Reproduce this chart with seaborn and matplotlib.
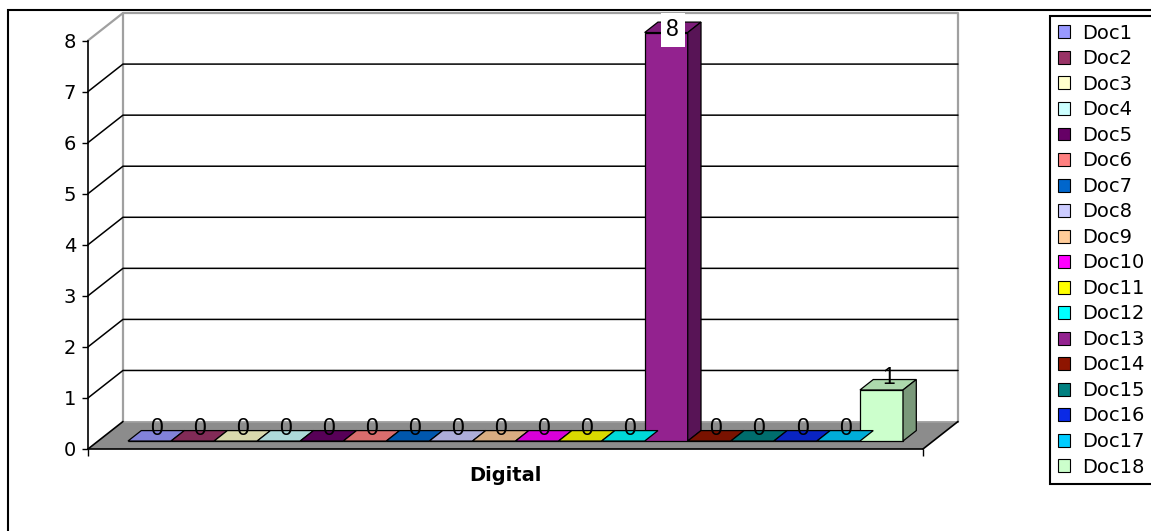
import pandas as pd
import matplotlib
matplotlib.use('Agg')
import matplotlib.pyplot as plt
import matplotlib.patches as mpatches
from matplotlib.transforms import Affine2D
import seaborn as sns

docs = ['Doc1', 'Doc2', 'Doc3', 'Doc4', 'Doc5', 'Doc6', 'Doc7', 'Doc8', 'Doc9',
        'Doc10', 'Doc11', 'Doc12', 'Doc13', 'Doc14', 'Doc15', 'Doc16', 'Doc17', 'Doc18']
values = [0, 0, 0, 0, 0, 0, 0, 0, 0, 0, 0, 0, 8, 0, 0, 0, 0, 1]
colors = ['#9999ff', '#993366', '#ffffcc', '#ccffff', '#660066', '#ff8080',
          '#0066cc', '#ccccff', '#ffcc99', '#ff00ff', '#ffff00', '#00ffff',
          '#93228f', '#8e1500', '#008080', '#0a2ae6', '#00ccff', '#ccffcc']
category = 'Digital'
y_ticks = [0, 1, 2, 3, 4, 5, 6, 7, 8]

sns.set_theme(style='white')
plt.rcParams['font.family'] = ['DejaVu Sans']
plt.rcParams.update({'text.color': 'black', 'xtick.color': 'black',
                     'ytick.color': 'black', 'axes.labelcolor': 'black'})

df = pd.DataFrame({'group': category, 'doc': docs, 'value': values})

W, H = 1151, 531
fig = plt.figure(figsize=(W / 100, H / 100), dpi=100)
ax = fig.add_axes([88 / W, (H - 449) / H, (923 - 88) / W, (449 - 40.5) / H])

sns.barplot(data=df, x='group', y='value', hue='doc', hue_order=docs,
            palette=colors, saturation=1, width=0.8, edgecolor='black',
            linewidth=0.9, legend=False, ax=ax, zorder=3)
bars = sorted(ax.patches, key=lambda p: p.get_x())

# fake 3d: depth of the floor (data units) and where the bars sit in it
XMIN, XMAX = -0.4308, 0.4311
DX, DY = 0.0361, 0.538
F0, F1 = 0.29, 0.67
ax.set_xlim(XMIN, XMAX)
ax.set_ylim(0, y_ticks[-1])
ax.patch.set_visible(False)
ax.set_xlabel('')
ax.set_ylabel('')

wall = '#a0a0a0'
top = y_ticks[-1]
ax.plot([XMIN + DX, XMIN + DX, XMAX + DX, XMAX + DX], [DY, top + DY, top + DY, DY],
        color=wall, lw=1.6, clip_on=False, zorder=0)
ax.plot([XMIN, XMIN + DX], [top, top + DY], color=wall, lw=1.6, clip_on=False, zorder=0)
for k in y_ticks[1:-1]:
    ax.plot([XMIN, XMIN + DX, XMAX + DX], [k, k + DY, k + DY], color='black',
            lw=1.1, clip_on=False, zorder=0)

floor = mpatches.Polygon([(XMIN, 0), (XMAX, 0), (XMAX + DX, DY), (XMIN + DX, DY)],
                         facecolor='#8c8c8c', edgecolor='none', clip_on=False, zorder=1)
ax.add_patch(floor)
ax.plot([XMIN + DX, XMAX + DX], [DY, DY], color=wall, lw=1.2, clip_on=False, zorder=1)
ax.plot([XMIN, XMIN + DX], [0, DY], color='black', lw=1.2, clip_on=False, zorder=1)
ax.plot([XMAX, XMAX + DX], [0, DY], color='black', lw=1.2, clip_on=False, zorder=1)


def shade(c, f):
    return (c[0] * f, c[1] * f, c[2] * f)


shift = Affine2D().translate(F0 * DX, F0 * DY) + ax.transData
d = F1 - F0
label_cap = 8.05
for p in bars:
    x0, w, h = p.get_x(), p.get_width(), p.get_height()
    c = p.get_facecolor()
    p.set_transform(shift)
    p.set_clip_on(False)
    top_face = mpatches.Polygon([(x0, h), (x0 + w, h), (x0 + w + d * DX, h + d * DY),
                                 (x0 + d * DX, h + d * DY)], facecolor=shade(c, 0.85),
                                edgecolor='black', lw=0.9, transform=shift,
                                clip_on=False, zorder=3)
    ax.add_patch(top_face)
    if h > 0:
        side = mpatches.Polygon([(x0 + w, 0), (x0 + w + d * DX, d * DY),
                                 (x0 + w + d * DX, h + d * DY), (x0 + w, h)],
                                facecolor=shade(c, 0.6), edgecolor='black', lw=0.9,
                                transform=shift, clip_on=False, zorder=3)
        ax.add_patch(side)
    ly = h + d / 2 * DY + 0.137
    boxed = ly > label_cap
    ax.text(x0 + w / 2 + d / 2 * DX, min(ly, label_cap), f'{h:g}', transform=shift,
            ha='center', va='center', fontsize=16.5, family='Liberation Sans',
            color='black', zorder=5,
            bbox=dict(boxstyle='square,pad=0.25', fc='white', ec='none') if boxed else None)

for s in ['top', 'right']:
    ax.spines[s].set_visible(False)
ax.spines['left'].set_color('black')
ax.spines['left'].set_linewidth(1.2)
ax.spines['bottom'].set_color('black')
ax.spines['bottom'].set_linewidth(1.2)
ax.spines['bottom'].set_zorder(2)

ax.set_yticks(y_ticks)
ax.set_yticklabels([str(t) for t in y_ticks], fontsize=14)
ax.tick_params(axis='y', direction='out', length=4.5, width=1, color='black',
               pad=4, left=True)
ax.set_xticks([0])
ax.set_xticklabels([category], fontsize=14, fontweight='bold')
ax.set_xticks([XMIN, XMAX], minor=True)
ax.tick_params(axis='x', which='major', length=0, pad=12)
ax.tick_params(axis='x', which='minor', direction='out', length=5, width=1,
               color='black', bottom=True)

handles = [mpatches.Patch(facecolor=p.get_facecolor(), edgecolor='black', lw=0.8, label=n)
           for p, n in zip(bars, docs)]
leg = fig.legend(handles=handles, loc='upper left',
                 bbox_to_anchor=(1050 / W, 1 - 16 / H, 130 / W, 0), mode='expand',
                 frameon=True, fancybox=False, edgecolor='black', framealpha=1,
                 fontsize=14, handlelength=0.65, handleheight=0.65, handletextpad=0.6,
                 labelspacing=0.335, borderpad=0.4, borderaxespad=0)
leg.get_frame().set_linewidth(1.5)

fig.add_artist(mpatches.Rectangle((8 / W, -0.1), 1.2, (H - 10) / H + 0.1,
                                  transform=fig.transFigure, fill=False,
                                  edgecolor='black', lw=1.5))

fig.savefig('out.png', dpi=100)
